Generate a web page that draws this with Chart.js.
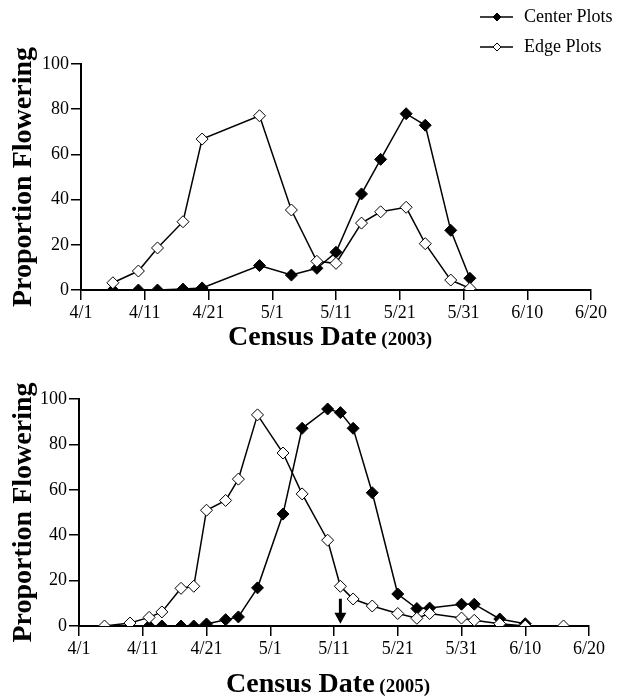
<!DOCTYPE html>
<html>
<head>
<meta charset="utf-8">
<script src="https://cdn.jsdelivr.net/npm/chart.js@4/dist/chart.umd.min.js"></script>
<style>
  body { margin: 0; background: #fff; }
  #wrap { position: relative; width: 617px; height: 698px; }
  canvas { position: absolute; left: 0; }
</style>
</head>
<body>
<div id="wrap">
  <canvas id="chart2003" width="617" height="349" style="top:0"></canvas>
  <canvas id="chart2005" width="617" height="349" style="top:349px"></canvas>
</div>
<script>
// days counted from 4/1
const tickLabels = ['4/1', '4/11', '4/21', '5/1', '5/11', '5/21', '5/31', '6/10', '6/20'];
const seriesNames = ['Center Plots', 'Edge Plots'];

const days2003 = [5, 9, 12, 16, 19, 28, 33, 37, 40, 44, 47, 51, 54, 58, 61];
const center2003 = [0, 0, 0, 0.4, 0.9, 10.8, 6.6, 9.6, 16.7, 42.5, 57.8, 78, 72.9, 26.4, 5.2];
const edge2003 = [3.2, 8.4, 18.6, 30.2, 66.8, 77.1, 35.4, 12.7, 11.8, 29.6, 34.6, 36.6, 20.5, 4.4, 0.7];

const centerDays2005 = [8, 11, 13, 16, 18, 20, 23, 25, 28, 32, 35, 39, 41, 43, 46, 50, 53, 55, 60, 62, 66, 70];
const center2005 = [0, 0, 0, 0, 0, 0.9, 2.8, 4.0, 16.8, 49.3, 87.1, 95.6, 94.0, 87.1, 58.7, 14.1, 7.7, 7.9, 9.6, 9.6, 3.1, 1.0];
const edgeDays2005 = [4, 8, 11, 13, 16, 18, 20, 23, 25, 28, 32, 35, 39, 41, 43, 46, 50, 53, 55, 60, 62, 66, 70, 76];
const edge2005 = [0, 1.3, 3.8, 6.2, 16.6, 17.5, 51.0, 55.3, 64.7, 93.0, 76.2, 58.2, 37.8, 17.5, 11.9, 8.8, 5.5, 3.4, 5.5, 3.5, 2.5, 1.0, 0, 0];

// arrow marker in 2005 panel (day, from value, to value)
const arrow2005 = { day: 41, from: 12, to: 1 };

const SERIF = "'Liberation Serif', 'Times New Roman', serif";

function pts(xs, ys) {
    return xs.map((x, i) => ({ x: x, y: ys[i] }));
}

// x title with two font sizes, e.g. "Census Date (2003)"
function xTitlePlugin(year, baseline) {
    return {
        id: 'xTitle',
        afterDraw(chart) {
            const ctx = chart.ctx;
            const area = chart.chartArea;
            const big = 'bold 28px ' + SERIF;
            const small = 'bold 19px ' + SERIF;
            const main = 'Census Date';
            const sub = ' (' + year + ')';
            ctx.save();
            ctx.font = big;
            const w1 = ctx.measureText(main).width;
            ctx.font = small;
            const w2 = ctx.measureText(sub).width;
            let x = (area.left + area.right) / 2 - (w1 + w2) / 2 - 6;
            ctx.fillStyle = '#000';
            ctx.textBaseline = 'alphabetic';
            ctx.textAlign = 'left';
            ctx.font = big;
            ctx.fillText(main, x, baseline);
            ctx.font = small;
            ctx.fillText(sub, x + w1, baseline);
            ctx.restore();
        }
    };
}

const legendPlugin = {
    id: 'cornerLegend',
    afterDraw(chart) {
        const ctx = chart.ctx;
        ctx.save();
        chart.data.datasets.forEach((ds, i) => {
            const y = 17 + i * 30;
            ctx.strokeStyle = '#000';
            ctx.lineWidth = 1.5;
            ctx.beginPath();
            ctx.moveTo(480, y);
            ctx.lineTo(513, y);
            ctx.stroke();
            ctx.beginPath();
            ctx.moveTo(497, y - 4);
            ctx.lineTo(501, y);
            ctx.lineTo(497, y + 4);
            ctx.lineTo(493, y);
            ctx.closePath();
            ctx.fillStyle = ds.pointBackgroundColor;
            ctx.fill();
            ctx.lineWidth = 1;
            ctx.stroke();
            ctx.fillStyle = '#000';
            ctx.font = '18px ' + SERIF;
            ctx.textBaseline = 'middle';
            ctx.fillText(ds.label, 524, y);
        });
        ctx.restore();
    }
};

function arrowPlugin(a) {
    return {
        id: 'arrow',
        afterDatasetsDraw(chart) {
            const xs = chart.scales.x, ys = chart.scales.y;
            const x = xs.getPixelForValue(a.day);
            const y1 = ys.getPixelForValue(a.from);
            const y2 = ys.getPixelForValue(a.to);
            const ctx = chart.ctx;
            ctx.save();
            ctx.strokeStyle = '#000';
            ctx.fillStyle = '#000';
            ctx.lineWidth = 3;
            ctx.beginPath();
            ctx.moveTo(x, y1);
            ctx.lineTo(x, y2 - 9);
            ctx.stroke();
            ctx.beginPath();
            ctx.moveTo(x - 6, y2 - 11);
            ctx.lineTo(x + 6, y2 - 11);
            ctx.lineTo(x, y2);
            ctx.closePath();
            ctx.fill();
            ctx.restore();
        }
    };
}

function makeChart(id, center, edge, year, g, extra) {
    const ctx = document.getElementById(id).getContext('2d');
    return new Chart(ctx, {
        type: 'line',
        data: {
            datasets: [{
                label: seriesNames[0],
                data: center,
                borderColor: '#000',
                borderWidth: 1.5,
                pointStyle: 'rectRot',
                pointRadius: 6,
                pointBackgroundColor: '#000',
                pointBorderColor: '#000',
                pointBorderWidth: 1,
                order: 1
            }, {
                label: seriesNames[1],
                data: edge,
                borderColor: '#000',
                borderWidth: 1.5,
                pointStyle: 'rectRot',
                pointRadius: 6,
                pointBackgroundColor: '#fff',
                pointBorderColor: '#000',
                pointBorderWidth: 1,
                order: 0
            }]
        },
        options: {
            responsive: false,
            animation: false,
            layout: { padding: { top: g.top, right: g.right, left: 0, bottom: 0 } },
            scales: {
                x: {
                    type: 'linear',
                    min: 0,
                    max: 80,
                    afterFit: s => { s.height = g.xHeight; },
                    ticks: {
                        stepSize: 10,
                        color: '#000',
                        font: { family: SERIF, size: 18 },
                        padding: 2,
                        maxRotation: 0,
                        callback: v => tickLabels[v / 10]
                    },
                    grid: { drawOnChartArea: false, tickLength: 10, color: '#000', lineWidth: 1.5 },
                    border: { color: '#000', width: 2 }
                },
                y: {
                    min: 0,
                    max: 100,
                    afterFit: s => { s.width = g.yWidth; },
                    ticks: {
                        stepSize: 20,
                        color: '#000',
                        font: { family: SERIF, size: 18 },
                        padding: 2
                    },
                    grid: { drawOnChartArea: false, tickLength: 10, color: '#000', lineWidth: 1.5 },
                    border: { color: '#000', width: 2 },
                    title: {
                        display: true,
                        text: 'Proportion Flowering',
                        color: '#000',
                        font: { family: SERIF, size: 28, weight: 'bold' },
                        padding: { top: 7, bottom: 0 }
                    }
                }
            },
            plugins: {
                legend: { display: false },
                tooltip: { enabled: false }
            }
        },
        plugins: [xTitlePlugin(year, g.titleBase)].concat(extra)
    });
}

makeChart('chart2003', pts(days2003, center2003), pts(days2003, edge2003), 2003,
    { top: 64, right: 26, xHeight: 59, yWidth: 81, titleBase: 345 }, [legendPlugin]);

makeChart('chart2005', pts(centerDays2005, center2005), pts(edgeDays2005, edge2005), 2005,
    { top: 50, right: 28, xHeight: 72, yWidth: 79, titleBase: 343 }, [arrowPlugin(arrow2005)]);
</script>
</body>
</html>
